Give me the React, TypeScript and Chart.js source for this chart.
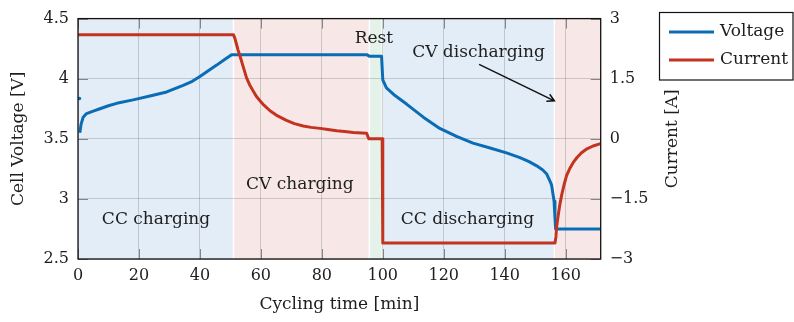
import React, { useEffect, useRef } from "react";
import { Chart, registerables } from "chart.js";

Chart.register(...registerables);

const FONT = "'DejaVu Serif', serif";
const BLUE = "#0b6cb6";
const RED = "#c2341f";
const INK = "#1e1e1e";

// Cycling time [min] and measured values
const voltageT = [0.5, 0.55, 0.6, 1.0, 1.7, 2.8, 5, 7.2, 10, 12.7, 18.1, 23.6, 29.1, 34.5, 37.5, 40, 42.5, 45.5, 48, 50.4, 51, 94.7, 95.7, 99.6, 100, 101.2, 104, 107.8, 113.3, 118.7, 124.2, 129.6, 135.2, 140.6, 145, 148, 150.5, 152.5, 153.8, 155, 155.4, 156.2, 156.5, 156.7, 171.5];
const voltageV: (number | null)[] = [3.835, null, 3.55, 3.62, 3.68, 3.71, 3.73, 3.75, 3.775, 3.795, 3.824, 3.856, 3.89, 3.945, 3.978, 4.018, 4.062, 4.113, 4.158, 4.2, 4.2, 4.2, 4.186, 4.186, 3.99, 3.924, 3.86, 3.789, 3.68, 3.586, 3.52, 3.464, 3.424, 3.383, 3.343, 3.31, 3.275, 3.24, 3.207, 3.14, 3.113, 2.98, 2.84, 2.75, 2.75];

const currentT = [0, 51, 51.5, 52, 52.5, 53.1, 54, 55.3, 56.3, 57.5, 58.5, 59.7, 61, 63, 65.5, 68.4, 71, 73.9, 76.5, 79.4, 82, 84.9, 87.5, 90.3, 94.7, 95.4, 99.8, 100, 156.5, 156.8, 157, 157.3, 157.6, 158.1, 158.7, 159.5, 160.3, 161.3, 162.5, 163.8, 165.2, 167, 169, 171.5];
const currentA = [2.6, 2.6, 2.5, 2.36, 2.22, 2.08, 1.85, 1.52, 1.35, 1.19, 1.06, 0.95, 0.84, 0.7, 0.57, 0.46, 0.38, 0.32, 0.285, 0.26, 0.23, 0.2, 0.18, 0.16, 0.14, 0.0, 0.0, -2.6, -2.6, -2.45, -2.22, -2.05, -1.89, -1.64, -1.4, -1.14, -0.92, -0.75, -0.59, -0.46, -0.35, -0.25, -0.18, -0.12];

const xTicks = [0, 20, 40, 60, 80, 100, 120, 140, 160];
const vTicks = [2.5, 3, 3.5, 4, 4.5];
const vTickLabels = ["2.5", "3", "3.5", "4", "4.5"];
const iTicks = [-3, -1.5, 0, 1.5, 3];
const iTickLabels = ["\u22123", "\u22121.5", "0", "1.5", "3"];

const phaseStart = [0, 51, 95.6, 99.8, 156.3];
const phaseEnd = [51, 95.6, 99.8, 156.3, 171.5];
const phaseColor = ["#e3edf7", "#f7e8e7", "#e5f2ea", "#e3edf7", "#f7e8e7"];

const phaseLabels = ["CC charging", "CV charging", "Rest", "CV discharging", "CC discharging"];
const labelT = [25.6, 72.8, 97.1, 131.4, 127.8];
const labelV = [2.83, 3.115, 4.33, 4.215, 2.83];
const arrowFrom = [131.6, 4.119];
const arrowTo = [156.3, 3.816];

const overlay = {
  id: "overlay",
  beforeDraw(chart: any) {
    const { ctx, chartArea: a, scales } = chart;
    const x = scales.x;
    ctx.save();
    for (let i = 0; i < phaseStart.length; i++) {
      const x0 = x.getPixelForValue(phaseStart[i]) + (i > 0 ? 0.7 : 0);
      const x1 = x.getPixelForValue(phaseEnd[i]) - (i < phaseStart.length - 1 ? 0.7 : 0);
      ctx.fillStyle = phaseColor[i];
      ctx.fillRect(x0, a.top, x1 - x0, a.bottom - a.top);
    }
    ctx.restore();
  },
  beforeDatasetsDraw(chart: any) {
    const { ctx, chartArea: a, scales } = chart;
    ctx.save();
    ctx.strokeStyle = "rgba(90,90,90,0.7)";
    ctx.lineWidth = 1;
    const L = 10;
    for (const t of xTicks) {
      const px = Math.round(scales.x.getPixelForValue(t)) + 0.5;
      ctx.beginPath();
      ctx.moveTo(px, a.top); ctx.lineTo(px, a.top + L);
      ctx.moveTo(px, a.bottom); ctx.lineTo(px, a.bottom - L);
      ctx.stroke();
    }
    for (const v of vTicks) {
      const py = Math.round(scales.yV.getPixelForValue(v)) + 0.5;
      ctx.beginPath();
      ctx.moveTo(a.left, py); ctx.lineTo(a.left + L, py);
      ctx.stroke();
    }
    for (const v of iTicks) {
      const py = Math.round(scales.yI.getPixelForValue(v)) + 0.5;
      ctx.beginPath();
      ctx.moveTo(a.right, py); ctx.lineTo(a.right - L, py);
      ctx.stroke();
    }
    ctx.restore();
  },
  afterDatasetsDraw(chart: any) {
    const { ctx, chartArea: a, scales } = chart;
    ctx.save();
    ctx.fillStyle = INK;
    ctx.font = `17px ${FONT}`;
    ctx.textAlign = "center";
    ctx.textBaseline = "middle";
    for (let i = 0; i < phaseLabels.length; i++) {
      ctx.fillText(phaseLabels[i], scales.x.getPixelForValue(labelT[i]), scales.yV.getPixelForValue(labelV[i]));
    }
    const ax0 = scales.x.getPixelForValue(arrowFrom[0]);
    const ay0 = scales.yV.getPixelForValue(arrowFrom[1]);
    const ax1 = scales.x.getPixelForValue(arrowTo[0]);
    const ay1 = scales.yV.getPixelForValue(arrowTo[1]);
    ctx.strokeStyle = "#111";
    ctx.lineWidth = 1.5;
    ctx.beginPath();
    ctx.moveTo(ax0, ay0);
    ctx.lineTo(ax1, ay1);
    const ang = Math.atan2(ay1 - ay0, ax1 - ax0);
    const h = 8;
    ctx.moveTo(ax1 - h * Math.cos(ang - 0.5), ay1 - h * Math.sin(ang - 0.5));
    ctx.lineTo(ax1, ay1);
    ctx.lineTo(ax1 - h * Math.cos(ang + 0.5), ay1 - h * Math.sin(ang + 0.5));
    ctx.stroke();
    ctx.strokeStyle = "#111";
    ctx.lineWidth = 1.3;
    ctx.strokeRect(a.left, a.top, a.right - a.left, a.bottom - a.top);
    ctx.restore();
  },
  afterDraw(chart: any) {
    const { ctx, chartArea: a } = chart;
    ctx.save();
    ctx.fillStyle = INK;
    ctx.font = `17px ${FONT}`;
    ctx.textAlign = "center";
    ctx.textBaseline = "middle";
    ctx.translate(673, (a.top + a.bottom) / 2);
    ctx.rotate(-Math.PI / 2);
    ctx.fillText("Current [A]", 0, 0);
    ctx.restore();
    ctx.save();
    ctx.strokeStyle = "#111";
    ctx.lineWidth = 1.2;
    ctx.strokeRect(659.5, 12.5, 133.5, 67.5);
    const ds = chart.data.datasets;
    const rows = [32, 60];
    ctx.font = `17px ${FONT}`;
    ctx.textAlign = "left";
    ctx.textBaseline = "middle";
    for (let i = 0; i < ds.length; i++) {
      ctx.strokeStyle = ds[i].borderColor;
      ctx.lineWidth = 3;
      ctx.beginPath();
      ctx.moveTo(669, rows[i]);
      ctx.lineTo(714, rows[i]);
      ctx.stroke();
      ctx.fillStyle = INK;
      ctx.fillText(ds[i].label, 720, rows[i]);
    }
    ctx.restore();
  },
};

export default function App() {
  const ref = useRef<HTMLCanvasElement>(null);
  useEffect(() => {
    const canvas = ref.current!;
    const chart = new Chart(canvas, {
      type: "line",
      data: {
        datasets: [
          {
            label: "Voltage",
            data: voltageT.map((t, i) => ({ x: t, y: voltageV[i] })),
            yAxisID: "yV",
            borderColor: BLUE,
            backgroundColor: BLUE,
            borderWidth: 3,
            borderJoinStyle: "round",
            pointRadius: (c: any) => (c.dataIndex === 0 ? 1.7 : 0),
            pointBorderWidth: 0,
            pointBackgroundColor: BLUE,
            spanGaps: false,
            tension: 0,
            order: 1,
          },
          {
            label: "Current",
            data: currentT.map((t, i) => ({ x: t, y: currentA[i] })),
            yAxisID: "yI",
            borderColor: RED,
            backgroundColor: RED,
            borderWidth: 3,
            borderJoinStyle: "round",
            pointRadius: 0,
            tension: 0,
            order: 0,
          },
        ],
      } as any,
      options: {
        animation: false,
        responsive: false,
        maintainAspectRatio: false,
        devicePixelRatio: 1,
        layout: { padding: { left: 0, right: 0, top: 12.3, bottom: 0 } },
        plugins: { legend: { display: false }, tooltip: { enabled: false } },
        scales: {
          x: {
            type: "linear",
            min: 0,
            max: 171.5,
            afterBuildTicks: (s: any) => { s.ticks = xTicks.map((v) => ({ value: v })); },
            afterFit: (s: any) => { s.height = 63; },
            ticks: { font: { family: FONT, size: 16 }, color: INK, padding: 7, maxRotation: 0 },
            grid: { color: "rgba(110,110,110,0.3)", drawTicks: false, lineWidth: 1 },
            border: { display: false },
            title: { display: true, text: "Cycling time [min]", font: { family: FONT, size: 17 }, color: INK, padding: { top: 4, bottom: 7 } },
          },
          yV: {
            type: "linear",
            position: "left",
            min: 2.5,
            max: 4.5,
            afterBuildTicks: (s: any) => { s.ticks = vTicks.map((v) => ({ value: v })); },
            afterFit: (s: any) => { s.width = 78; },
            ticks: {
              font: { family: FONT, size: 16 }, color: INK, padding: 9,
              callback: (v: any) => vTickLabels[vTicks.indexOf(Number(v))] ?? "",
            },
            grid: { color: "rgba(110,110,110,0.3)", drawTicks: false, lineWidth: 1 },
            border: { display: false },
            title: { display: true, text: "Cell Voltage [V]", font: { family: FONT, size: 17 }, color: INK, padding: { top: 8, bottom: 4 } },
          },
          yI: {
            type: "linear",
            position: "right",
            min: -3,
            max: 3,
            afterBuildTicks: (s: any) => { s.ticks = iTicks.map((v) => ({ value: v })); },
            afterFit: (s: any) => { s.width = 193.3; },
            ticks: {
              font: { family: FONT, size: 16 }, color: INK, padding: 9,
              callback: (v: any) => iTickLabels[iTicks.indexOf(Number(v))] ?? "",
            },
            grid: { display: false, drawTicks: false },
            border: { display: false },
          },
        },
      } as any,
      plugins: [overlay],
    });
    return () => chart.destroy();
  }, []);
  return (
    <div style={{ position: "fixed", left: 0, top: 0, width: 794, height: 322, background: "#fff" }}>
      <canvas ref={ref} width={794} height={322} style={{ width: 794, height: 322, display: "block" }} />
    </div>
  );
}
